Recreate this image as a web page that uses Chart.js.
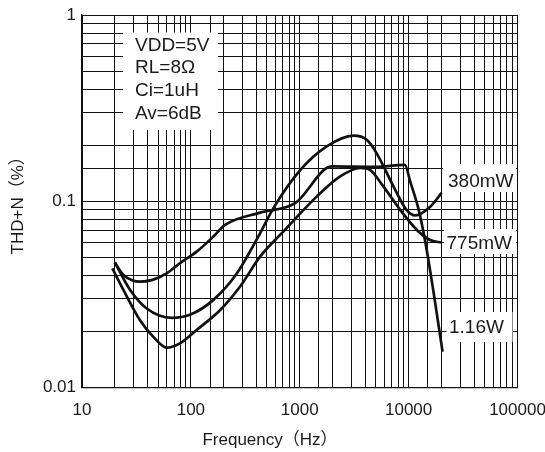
<!DOCTYPE html>
<html><head><meta charset="utf-8">
<script src="https://cdn.jsdelivr.net/npm/chart.js@4/dist/chart.umd.min.js"></script>
<style>html,body{margin:0;padding:0;background:#fff}#wrap{width:545px;height:452px;position:relative}</style>
</head><body><div id="wrap"><canvas id="c" width="545" height="452"></canvas></div>
<script>
// ---- data ----
const xTickLabels = ['10', '100', '1000', '10000', '100000'];
const yTickLabels = ['0.01', '0.1', '1'];
const seriesNames = ['380mW', '775mW', '1.16W'];
const conditions = ['VDD=5V', 'RL=8Ω', 'Ci=1uH', 'Av=6dB'];
const xTitle = 'Frequency（Hz）';
const yTitle = 'THD+N（%）';

const freq380 = [20, 27.6, 39, 67, 98, 161, 264, 432, 573, 1010, 1770, 3110, 4120, 5090, 7270, 9600, 11500, 15800, 20100];
const thd380  = [0.047, 0.0335, 0.0267, 0.0237, 0.0246, 0.0296, 0.041, 0.0674, 0.092, 0.147, 0.197, 0.225, 0.214, 0.181, 0.12, 0.0897, 0.084, 0.0936, 0.111];

const freq775 = [19, 24, 34, 45, 60, 79.5, 113, 186, 282, 432, 709, 1430, 2350, 3600, 4440, 5880, 8360, 11970, 15770, 20100];
const thd775  = [0.0437, 0.0335, 0.0231, 0.0188, 0.0164, 0.0173, 0.0204, 0.0261, 0.0348, 0.0505, 0.069, 0.106, 0.136, 0.151, 0.147, 0.12, 0.09, 0.070, 0.062, 0.060];

const freq116 = [20, 24, 29.6, 34, 43.7, 60, 79.5, 113, 161, 206, 432, 907, 1970, 5000, 9250, 10330, 12390, 14300, 17000, 20500];
const thd116  = [0.047, 0.0403, 0.0375, 0.0371, 0.0378, 0.0411, 0.0466, 0.0537, 0.0647, 0.0747, 0.087, 0.0977, 0.154, 0.153, 0.157, 0.128, 0.0897, 0.0596, 0.0321, 0.0156];

// ---- build ----
const toPts = (xs, ys) => xs.map((v, i) => ({x: v, y: ys[i]}));
const FONT = '"Liberation Sans", Arial, "Noto Sans CJK SC", sans-serif';
const INK = '#1a1a1a';
const GRID = '#111';
const isDecade = v => Math.abs(Math.log10(v) - Math.round(Math.log10(v))) < 1e-6;
const lineDs = (name, xs, ys) => ({
  label: name, data: toPts(xs, ys), borderColor: '#111', borderWidth: 2.7,
  pointRadius: 0, fill: false, cubicInterpolationMode: 'monotone'
});

const overlay = {
  id: 'overlay',
  beforeDatasetsDraw(chart) {
    const {ctx, chartArea: a} = chart;
    ctx.save();
    ctx.fillStyle = '#fff';
    ctx.fillRect(a.left + 41, a.top + 17.5, 95, 97.5);   // conditions box
    ctx.fillRect(a.left + 361, a.top + 149, 73, 28);     // 380mW
    ctx.fillRect(a.left + 362, a.top + 214, 72, 25);     // 775mW
    ctx.fillRect(a.left + 364.5, a.top + 297, 66, 30);   // 1.16W
    ctx.restore();
  },
  afterDatasetsDraw(chart) {
    const {ctx, chartArea: a} = chart;
    ctx.save();
    ctx.fillStyle = INK;
    ctx.textBaseline = 'middle';
    ctx.textAlign = 'left';
    ctx.font = '19px ' + FONT;
    conditions.forEach((t, i) => ctx.fillText(t, a.left + 53, a.top + 30.5 + i * 22.7));
    const lx = [a.left + 366, a.left + 364.5, a.left + 367];
    const ly = [a.top + 166.5, a.top + 228.7, a.top + 313];
    seriesNames.forEach((t, i) => ctx.fillText(t, lx[i], ly[i]));
    ctx.font = '17px ' + FONT;
    ctx.textAlign = 'center';
    ctx.fillText(xTitle, 270, 440);
    ctx.translate(18.5, (a.top + a.bottom) / 2);
    ctx.rotate(-Math.PI / 2);
    ctx.fillText(yTitle, 0, 0);
    ctx.restore();
  }
};

new Chart(document.getElementById('c'), {
  type: 'line',
  data: { datasets: [
    lineDs(seriesNames[0], freq380, thd380),
    lineDs(seriesNames[1], freq775, thd775),
    lineDs(seriesNames[2], freq116, thd116)
  ]},
  options: {
    responsive: false, animation: false, devicePixelRatio: 1,
    layout: { padding: { top: 15, right: 27.5, left: 0, bottom: 0 } },
    plugins: { legend: { display: false }, tooltip: { enabled: false } },
    scales: {
      x: {
        type: 'logarithmic', min: 10, max: 100000,
        grid: { color: GRID, lineWidth: 1, drawTicks: false },
        border: { color: GRID, width: 1.3 },
        ticks: {
          autoSkip: false, maxRotation: 0, padding: 12, color: INK,
          font: { family: FONT, size: 17 },
          callback: v => isDecade(v) ? xTickLabels[Math.round(Math.log10(v)) - 1] : ''
        },
        afterFit: s => { s.height = 64.3; s.paddingLeft = 0; s.paddingRight = 0; }
      },
      y: {
        type: 'logarithmic', min: 0.01, max: 1,
        grid: { color: GRID, lineWidth: 1, drawTicks: false },
        border: { color: GRID, width: 1.3 },
        ticks: {
          autoSkip: false, padding: 6, color: INK,
          font: { family: FONT, size: 17 },
          callback: v => isDecade(v) ? yTickLabels[Math.round(Math.log10(v)) + 2] : ''
        },
        afterFit: s => { s.width = 82; s.paddingTop = 0; s.paddingBottom = 0; }
      }
    }
  },
  plugins: [overlay]
});
</script></body></html>
